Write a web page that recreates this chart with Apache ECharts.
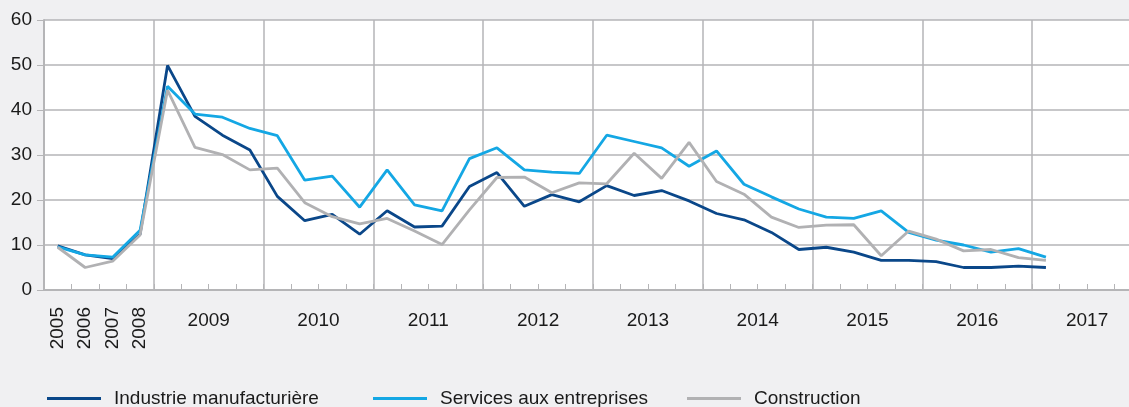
<!DOCTYPE html>
<html>
<head>
<meta charset="utf-8">
<script src="https://cdn.jsdelivr.net/npm/echarts@6/dist/echarts.min.js"></script>
<style>
  html, body { margin: 0; padding: 0; background: #f0f0f2; }
  #main { width: 1129px; height: 407px; }
</style>
</head>
<body>
<div id="main"></div>
<script>
// annual points first, then quarterly points from 2009
const annualYears = ['2005', '2006', '2007', '2008'];
const quarterYears = ['2009', '2010', '2011', '2012', '2013', '2014', '2015', '2016', '2017'];
const quarters = ['T1', 'T2', 'T3', 'T4'];

const industrie = [9.8, 7.8, 7.0, 12.4,
    49.9, 38.6, 34.4, 31.1,
    20.8, 15.4, 16.8, 12.4,
    17.6, 14.0, 14.2, 23.0,
    26.1, 18.6, 21.2, 19.6,
    23.2, 21.0, 22.1, 19.8,
    17.0, 15.6, 12.8, 9.0,
    9.5, 8.4, 6.6, 6.6,
    6.3, 5.0, 5.0, 5.3,
    5.0];
const services = [9.6, 7.8, 7.3, 13.3,
    45.3, 39.1, 38.4, 35.9,
    34.3, 24.4, 25.3, 18.4,
    26.7, 18.9, 17.6, 29.2,
    31.6, 26.7, 26.2, 25.9,
    34.4, 33.0, 31.6, 27.5,
    30.9, 23.5, 20.7, 18.0,
    16.2, 15.9, 17.6, 12.8,
    11.1, 10.0, 8.4, 9.2,
    7.3];
const construction = [9.5, 5.0, 6.4, 12.2,
    44.4, 31.7, 30.1, 26.7,
    27.1, 19.4, 16.3, 14.7,
    15.9, 13.1, 10.1, 17.8,
    25.0, 25.1, 21.6, 23.8,
    23.6, 30.4, 24.8, 32.8,
    24.1, 21.3, 16.2, 13.9,
    14.4, 14.5, 7.6, 13.1,
    11.3, 8.7, 9.0, 7.2,
    6.6];

const seriesNames = ['Industrie manufacturière', 'Services aux entreprises', 'Construction'];
const colors = ['#0a4789', '#14a7e4', '#b1b1b3'];

let categories = annualYears.slice();
quarterYears.forEach(y => quarters.forEach(q => categories.push(q + ' ' + y)));

const font = 'Liberation Sans, Arial, sans-serif';
const fontSize = 19;
const textColor = '#1a1a1a';
const lineGray = '#b5b5b7';

const chart = echarts.init(document.getElementById('main'));

function legendAt(i, left) {
    return {
        data: [seriesNames[i]],
        left: left,
        top: 384,
        icon: 'rect',
        itemWidth: 54,
        itemHeight: 3,
        selectedMode: false,
        textStyle: { fontFamily: font, fontSize: fontSize, color: textColor, padding: [0, 0, 0, 8] }
    };
}

chart.setOption({
    backgroundColor: '#f0f0f2',
    animation: false,
    color: colors,
    grid: {
        show: true,
        backgroundColor: '#ffffff',
        borderWidth: 0,
        left: 44,
        top: 20,
        width: 1098,
        height: 270,
        outerBoundsMode: 'none'
    },
    legend: [legendAt(0, 42), legendAt(1, 368), legendAt(2, 682)],
    xAxis: [
        {
            type: 'category',
            data: categories,
            boundaryGap: true,
            position: 'bottom',
            axisLine: { lineStyle: { color: lineGray, width: 2 } },
            axisTick: { show: true, inside: true, length: 6, interval: 0, lineStyle: { color: lineGray, width: 1 } },
            axisLabel: { show: false },
            splitLine: {
                show: true,
                interval: function (index) { return index % 4 === 0; },
                lineStyle: { color: lineGray, width: 1.5 }
            }
        },
        {
            // rotated labels for the annual points
            type: 'category',
            data: categories,
            position: 'bottom',
            axisLine: { show: false },
            axisTick: { show: false },
            splitLine: { show: false },
            axisLabel: {
                interval: 0,
                rotate: 90,
                margin: 17,
                fontFamily: font,
                fontSize: fontSize,
                color: textColor,
                formatter: function (v, i) { return i < annualYears.length ? v : ''; }
            }
        },
        {
            // year labels centred on each quarterly year
            type: 'value',
            min: 0,
            max: categories.length,
            interval: 2,
            position: 'bottom',
            axisLine: { show: false },
            axisTick: { show: false },
            splitLine: { show: false },
            axisLabel: {
                margin: 21,
                fontFamily: font,
                fontSize: fontSize,
                color: textColor,
                showMaxLabel: false,
                formatter: function (v) {
                    const k = (v - annualYears.length - 2) / 4;
                    return (k >= 0 && Number.isInteger(k) && k < quarterYears.length) ? quarterYears[k] : '';
                }
            }
        }
    ],
    yAxis: {
        type: 'value',
        min: 0,
        max: 60,
        interval: 10,
        axisLine: { show: true, lineStyle: { color: lineGray, width: 2 } },
        axisTick: { show: true, length: 7, lineStyle: { color: lineGray, width: 1 } },
        axisLabel: { margin: 12, fontFamily: font, fontSize: fontSize, color: textColor },
        splitLine: { lineStyle: { color: lineGray, width: 1.5 } }
    },
    series: [
        { name: seriesNames[0], type: 'line', data: industrie, xAxisIndex: 0, symbol: 'none', lineStyle: { width: 2.8 } },
        { name: seriesNames[1], type: 'line', data: services, xAxisIndex: 0, symbol: 'none', lineStyle: { width: 2.8 } },
        { name: seriesNames[2], type: 'line', data: construction, xAxisIndex: 0, symbol: 'none', lineStyle: { width: 2.8 } }
    ]
});
</script>
</body>
</html>
